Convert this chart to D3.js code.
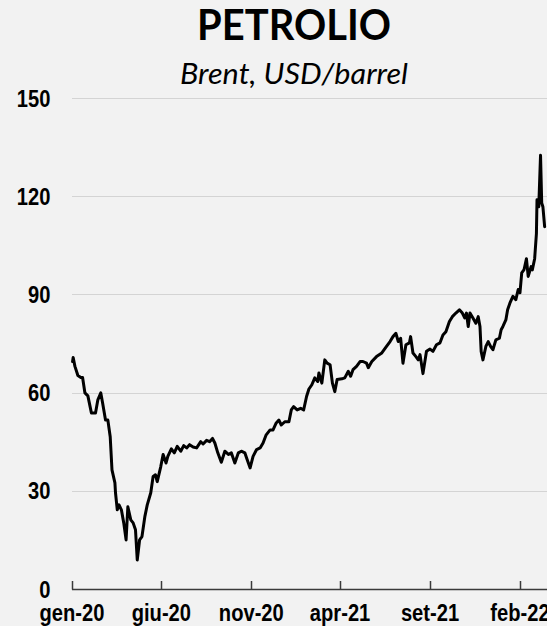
<!DOCTYPE html>
<html>
<head>
<meta charset="utf-8">
<script src="https://cdn.jsdelivr.net/npm/d3@7"></script>
<style>
  html, body { margin: 0; padding: 0; background: #f2f2f2; }
  svg { display: block; }
</style>
</head>
<body>
<div id="chart"></div>
<script>
// ---- data ----
const title = "PETROLIO";
const subtitle = "Brent, USD/barrel";

const dates = [
"2020-01-02","2020-01-03","2020-01-06","2020-01-11","2020-01-16","2020-01-19","2020-01-23","2020-01-28",
"2020-02-03","2020-02-10","2020-02-14","2020-02-19","2020-02-22","2020-02-27","2020-03-02","2020-03-06",
"2020-03-09","2020-03-14","2020-03-15","2020-03-18","2020-03-21","2020-03-25","2020-03-29","2020-04-02",
"2020-04-05","2020-04-10","2020-04-14","2020-04-18","2020-04-21","2020-04-25","2020-04-29","2020-05-04",
"2020-05-08","2020-05-14","2020-05-18","2020-05-22","2020-05-25","2020-05-31","2020-06-04","2020-06-09",
"2020-06-12","2020-06-18","2020-06-23","2020-06-28","2020-07-04","2020-07-09","2020-07-14","2020-07-19",
"2020-07-25","2020-07-31","2020-08-07","2020-08-11","2020-08-17","2020-08-22","2020-08-27","2020-08-31",
"2020-09-05","2020-09-11","2020-09-17","2020-09-23","2020-09-28","2020-10-04","2020-10-10","2020-10-15",
"2020-10-21","2020-10-24","2020-10-30","2020-11-04","2020-11-10","2020-11-16","2020-11-21","2020-11-26",
"2020-12-03","2020-12-08","2020-12-13","2020-12-18","2020-12-22","2020-12-28","2021-01-04","2021-01-08",
"2021-01-12","2021-01-18","2021-01-24","2021-01-29","2021-02-03","2021-02-07","2021-02-12","2021-02-17",
"2021-02-22","2021-02-24","2021-03-01","2021-03-06","2021-03-10","2021-03-15","2021-03-19","2021-03-23",
"2021-03-27","2021-04-04","2021-04-09","2021-04-15","2021-04-19","2021-04-23","2021-04-29","2021-05-05",
"2021-05-10","2021-05-16","2021-05-19","2021-05-25","2021-06-02","2021-06-11","2021-06-19","2021-06-25",
"2021-06-30","2021-07-05","2021-07-09","2021-07-13","2021-07-17","2021-07-22","2021-07-28","2021-07-30",
"2021-08-03","2021-08-08","2021-08-12","2021-08-15","2021-08-20","2021-08-26","2021-09-01","2021-09-06",
"2021-09-12","2021-09-18","2021-09-23","2021-09-28","2021-10-04","2021-10-09","2021-10-15","2021-10-21",
"2021-10-26","2021-10-30","2021-11-02","2021-11-05","2021-11-08","2021-11-13","2021-11-18","2021-11-22",
"2021-11-25","2021-11-27","2021-11-30","2021-12-05","2021-12-09","2021-12-13","2021-12-17","2021-12-22",
"2021-12-28","2021-12-31","2022-01-03","2022-01-08","2022-01-11","2022-01-15","2022-01-20","2022-01-25",
"2022-01-29","2022-02-01","2022-02-04","2022-02-08","2022-02-12","2022-02-15","2022-02-20","2022-02-22",
"2022-02-26","2022-03-01","2022-03-02","2022-03-05","2022-03-08","2022-03-10","2022-03-12","2022-03-15"
];

const brent = [
69.5,70.7,68.0,65.2,64.6,64.6,59.9,59.0,
53.8,53.8,57.8,59.9,56.9,51.6,51.6,46.5,
36.4,32.4,29.4,24.2,25.7,24.2,20.2,15.0,
25.1,21.1,20.2,18.1,8.85,15.0,16.0,22.2,
25.7,29.4,34.4,34.9,32.8,37.4,41.1,38.5,
40.5,42.8,41.6,43.6,42.1,43.8,43.1,44.1,
43.4,43.1,45.0,44.3,45.4,45.0,46.0,44.6,
41.6,38.7,42.1,41.1,41.6,38.5,41.6,42.1,
41.6,40.0,37.0,40.5,42.6,43.1,44.6,47.0,
48.6,48.6,50.6,51.6,50.1,51.1,51.1,54.7,
55.7,54.7,55.2,54.7,58.8,61.1,62.4,64.5,
63.4,66.0,62.9,70.0,69.0,68.5,62.9,60.3,
64.0,64.2,64.5,66.5,65.0,67.0,68.0,69.5,
69.5,69.0,67.6,69.5,71.0,72.1,74.1,75.6,
77.1,78.1,75.6,76.6,69.0,74.6,75.2,77.1,
72.1,71.0,70.0,71.6,65.8,72.6,73.3,72.6,
74.6,75.2,77.6,78.6,81.7,83.2,84.3,85.3,
84.3,82.8,84.3,80.2,84.3,82.8,81.2,83.2,
80.2,72.6,70.0,74.1,75.6,74.1,73.1,76.1,
76.6,79.2,80.2,82.2,85.3,87.4,89.4,88.4,
91.5,90.5,96.6,97.6,100.9,95.5,98.5,97.5,
100.9,108.6,118.9,116.8,132.5,117.9,116.8,110.7
];

const yTicks = [0, 30, 60, 90, 120, 150];
const tickDates = ["2020-01-01","2020-06-01","2020-11-01","2021-04-01","2021-09-01","2022-02-01"];
const tickLabels = ["gen-20","giu-20","nov-20","apr-21","set-21","feb-22"];

// ---- layout ----
const W = 547, H = 626;
const mLeft = 72, mRight = 547, mTop = 98, mBottom = 589;
const parse = d3.utcParse("%Y-%m-%d");

const x = d3.scaleUtc()
  .domain([parse("2020-01-01"), parse("2022-03-19")])
  .range([mLeft, mRight]);
const y = d3.scaleLinear().domain([0, 150]).range([mBottom, mTop]);

const svg = d3.select("#chart").append("svg")
  .attr("width", W).attr("height", H)
  .style("background", "#f2f2f2");

// title & subtitle
svg.append("text")
  .attr("x", 294).attr("y", 40)
  .attr("text-anchor", "middle")
  .attr("font-family", "Lato, 'Open Sans', sans-serif")
  .attr("font-weight", 700)
  .attr("font-size", 42)
  .attr("textLength", 194).attr("lengthAdjust", "spacingAndGlyphs")
  .attr("fill", "#000")
  .text(title);

svg.append("text")
  .attr("x", 294).attr("y", 84)
  .attr("text-anchor", "middle")
  .attr("font-family", "Lato, 'Open Sans', sans-serif")
  .attr("font-style", "italic")
  .attr("font-size", 28)
  .attr("textLength", 228).attr("lengthAdjust", "spacingAndGlyphs")
  .attr("fill", "#000")
  .text(subtitle);

// gridlines
svg.append("g").selectAll("line")
  .data(yTicks.filter(d => d > 0))
  .join("line")
  .attr("x1", mLeft).attr("x2", mRight)
  .attr("y1", d => Math.round(y(d)) + 0.5).attr("y2", d => Math.round(y(d)) + 0.5)
  .attr("stroke", "#d4d4d4").attr("stroke-width", 1.2);

// y labels
const labelFont = "'Liberation Sans', Arial, sans-serif";
svg.append("g").selectAll("text")
  .data(yTicks)
  .join("text")
  .attr("transform", d => `translate(50.5,${y(d)}) scale(0.84,1)`)
  .attr("dy", "0.36em")
  .attr("text-anchor", "end")
  .attr("font-family", labelFont)
  .attr("font-weight", 700)
  .attr("font-size", 24)
  .attr("fill", "#000")
  .text(d => d);

// x axis line + ticks (ticks point upward)
const xAxisG = svg.append("g");
xAxisG.append("line")
  .attr("x1", mLeft).attr("x2", mRight)
  .attr("y1", mBottom + 0.5).attr("y2", mBottom + 0.5)
  .attr("stroke", "#3a3a3a").attr("stroke-width", 1.5);
xAxisG.selectAll("line.tick")
  .data(tickDates)
  .join("line")
  .attr("class", "tick")
  .attr("x1", d => Math.round(x(parse(d))) + 0.5)
  .attr("x2", d => Math.round(x(parse(d))) + 0.5)
  .attr("y1", mBottom + 0.5).attr("y2", mBottom - 8)
  .attr("stroke", "#3a3a3a").attr("stroke-width", 1.5);

xAxisG.selectAll("text")
  .data(tickDates)
  .join("text")
  .attr("transform", d => `translate(${x(parse(d))},620.5) scale(0.84,1)`)
  .attr("text-anchor", "middle")
  .attr("font-family", labelFont)
  .attr("font-weight", 700)
  .attr("font-size", 24)
  .attr("fill", "#000")
  .text((d, i) => tickLabels[i]);

// line
const series = dates.map((d, i) => ({ date: parse(d), value: brent[i] }));
svg.append("path")
  .datum(series)
  .attr("fill", "none")
  .attr("stroke", "#000")
  .attr("stroke-width", 3)
  .attr("stroke-linejoin", "round")
  .attr("stroke-linecap", "round")
  .attr("d", d3.line().x(d => x(d.date)).y(d => y(d.value)));
</script>
</body>
</html>
